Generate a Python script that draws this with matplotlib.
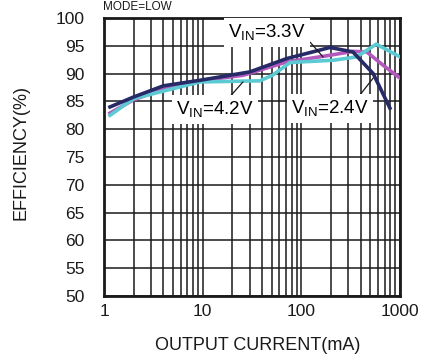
import matplotlib
matplotlib.use("Agg")
import matplotlib.pyplot as plt
import numpy as np

# Data
i_33 = [1.15, 2.0, 4.0, 9.4, 30, 71, 195, 333, 535, 790]
e_33 = [84.0, 85.8, 87.8, 88.8, 90.3, 92.7, 94.7, 93.9, 90.0, 83.8]

i_24 = [1.15, 2.0, 4.3, 9.4, 25.7, 71, 180, 333, 460, 675, 1000]
e_24 = [82.9, 85.3, 87.4, 88.7, 89.7, 92.1, 93.2, 94.0, 93.9, 91.5, 89.2]

i_42 = [1.15, 2.0, 4.3, 9.4, 38, 51, 77, 210, 363, 575, 1000]
e_42 = [82.5, 85.5, 87.0, 88.5, 88.7, 89.7, 92.0, 92.4, 93.0, 95.3, 93.0]

y_ticks = [50, 55, 60, 65, 70, 75, 80, 85, 90, 95, 100]
x_ticks = [1, 10, 100, 1000]
x_tick_labels = ["1", "10", "100", "1000"]

plt.rcParams['font.family'] = ['Liberation Sans', 'DejaVu Sans']

fig = plt.figure(figsize=(4.23, 3.56), dpi=100)
W, H = 423, 356
left, right, top, bottom = 104, 400, 18, 296
ax = fig.add_axes([left / W, 1 - bottom / H, (right - left) / W, (bottom - top) / H])

ax.set_xscale('log')
ax.set_xlim(1, 1000)
ax.set_ylim(50, 100)

# grid
ax.set_yticks(y_ticks)
ax.set_xticks(x_ticks)
ax.set_xticklabels(x_tick_labels)
ax.xaxis.set_minor_locator(matplotlib.ticker.LogLocator(base=10, subs=np.arange(2, 10)))
ax.xaxis.set_minor_formatter(matplotlib.ticker.NullFormatter())
ax.grid(True, which='major', color='#1a1a1a', linewidth=1.1)
ax.grid(True, which='minor', axis='x', color='#1a1a1a', linewidth=1.1)
ax.tick_params(which='both', length=0, labelsize=12.5, colors='#1a1a1a')
ax.tick_params(axis='x', pad=6)
ax.tick_params(axis='y', pad=14)
for s in ax.spines.values():
    s.set_linewidth(2)
    s.set_color('#1a1a1a')

lw = 2.6
ax.plot(i_24, e_24, color='#b359bd', lw=lw, zorder=3)
ax.plot(i_42, e_42, color='#5ccad3', lw=lw, zorder=4)
ax.plot(i_33, e_33, color='#262a66', lw=lw, zorder=5)

box = dict(facecolor='white', edgecolor='none', pad=3)
fs = 13.5
ax.annotate(r'V$_\mathregular{IN}$=3.3V', xy=(166, 93.0), xytext=(45, 97.4),
            fontsize=fs, ha='center', va='center', bbox=box, zorder=6,
            arrowprops=dict(arrowstyle='-', color='#1a1a1a', lw=0.9, shrinkA=0, shrinkB=0,
                            relpos=(1.0, 0.25)))
ax.annotate(r'V$_\mathregular{IN}$=4.2V', xy=(25.6, 88.5), xytext=(13.3, 83.5),
            fontsize=fs, ha='center', va='center', bbox=box, zorder=6,
            arrowprops=dict(arrowstyle='-', color='#1a1a1a', lw=0.9, shrinkA=0, shrinkB=0,
                            relpos=(0.66, 1.0)))
ax.annotate(r'V$_\mathregular{IN}$=2.4V', xy=(535, 89.2), xytext=(195, 83.7),
            fontsize=fs, ha='center', va='center', bbox=box, zorder=6,
            arrowprops=dict(arrowstyle='-', color='#1a1a1a', lw=0.9, shrinkA=0, shrinkB=0,
                            relpos=(0.85, 1.0)))

fig.text(258 / W, 1 - 345 / H, 'OUTPUT CURRENT(mA)', ha='center', va='center',
         fontsize=13, color='#1a1a1a')
fig.text(21 / W, 1 - 153 / H, 'EFFICIENCY(%)', ha='center', va='center',
         rotation=90, fontsize=13, color='#1a1a1a')
fig.text(103 / W, 1 - 1 / H, 'MODE=LOW', ha='left', va='top',
         fontsize=8.5, color='#1a1a1a')

fig.savefig('out.png', dpi=100)
